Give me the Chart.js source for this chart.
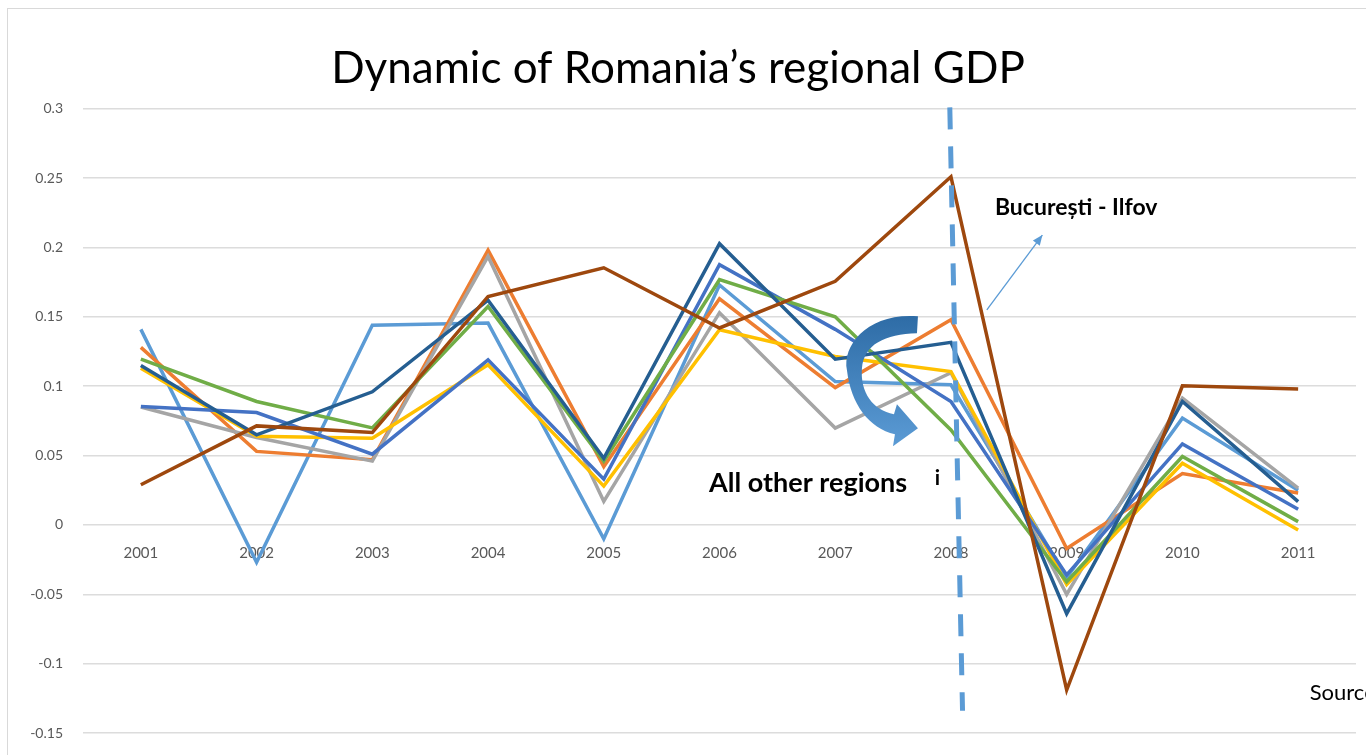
<!DOCTYPE html>
<html>
<head>
<meta charset="utf-8">
<script src="https://cdn.jsdelivr.net/npm/chart.js"></script>
<style>
  body { margin: 0; background: #fff; }
  #wrap { width: 1366px; height: 755px; position: relative; }
</style>
</head>
<body>
<div id="wrap"><canvas id="gdpChart" width="1366" height="755"></canvas></div>
<script>
// Years on the category axis
const years = ['2001', '2002', '2003', '2004', '2005', '2006', '2007', '2008', '2009', '2010', '2011'];

// Yearly GDP growth per region
const seriesLightBlue = [0.141, -0.027, 0.144, 0.1455, -0.010, 0.173, 0.1034, 0.101, -0.038, 0.077, 0.025];
const seriesOrange    = [0.128, 0.053, 0.047, 0.198, 0.042, 0.163, 0.099, 0.148, -0.017, 0.037, 0.023];
const seriesGray      = [0.085, 0.063, 0.046, 0.1936, 0.017, 0.153, 0.0698, 0.1097, -0.050, 0.0914, 0.0265];
const seriesYellow    = [0.113, 0.064, 0.0625, 0.1154, 0.028, 0.1407, 0.1214, 0.1106, -0.043, 0.0445, -0.0036];
const seriesBlue      = [0.0854, 0.081, 0.051, 0.119, 0.033, 0.1876, 0.141, 0.089, -0.036, 0.0584, 0.0113];
const seriesGreen     = [0.1195, 0.089, 0.070, 0.1575, 0.046, 0.1768, 0.150, 0.0685, -0.041, 0.0493, 0.0024];
const seriesDarkBlue  = [0.115, 0.065, 0.096, 0.162, 0.048, 0.2027, 0.1195, 0.1316, -0.064, 0.089, 0.0168];
const bucurestiIlfov  = [0.029, 0.0714, 0.0666, 0.1647, 0.1854, 0.142, 0.1756, 0.251, -0.119, 0.1003, 0.098];

// Value axis
const yMin = -0.15;
const yMax = 0.3;
const yStep = 0.05;

const FONT = 'Lato, "Open Sans", sans-serif';

const seriesList = [
  { label: 'Series 1', data: seriesLightBlue, color: '#5B9BD5' },
  { label: 'Series 2', data: seriesOrange, color: '#ED7D31' },
  { label: 'Series 3', data: seriesGray, color: '#A5A5A5' },
  { label: 'Series 4', data: seriesYellow, color: '#FFC000' },
  { label: 'Series 5', data: seriesBlue, color: '#4472C4' },
  { label: 'Series 6', data: seriesGreen, color: '#70AD47' },
  { label: 'Series 7', data: seriesDarkBlue, color: '#255E91' },
  { label: 'București - Ilfov', data: bucurestiIlfov, color: '#9E480E' }
];

// frame + annotations drawn on the canvas
const annotations = {
  id: 'annotations',
  beforeDraw(chart) {
    const ctx = chart.ctx;
    ctx.save();
    ctx.strokeStyle = '#d9d9d9';
    ctx.lineWidth = 1;
    ctx.strokeRect(7.5, 8.5, 1400, 800);
    ctx.restore();
  },
  afterDatasetsDraw(chart) {
    const ctx = chart.ctx;
    const xs = chart.scales.x;
    const ys = chart.scales.y;
    const px = i => xs.getPixelForValue(i);
    const py = v => ys.getPixelForValue(v);

    ctx.save();

    // dashed vertical line at 2008
    ctx.strokeStyle = '#5B9BD5';
    ctx.lineWidth = 5;
    ctx.setLineDash([22, 17]);
    ctx.beginPath();
    ctx.moveTo(px(6.99), py(0.301));
    ctx.lineTo(px(7.1), py(-0.134));
    ctx.stroke();
    ctx.setLineDash([]);

    // thin arrow pointing at the Bucuresti label
    const ax0 = px(7.31), ay0 = py(0.155);
    const ax1 = px(7.79), ay1 = py(0.209);
    ctx.strokeStyle = '#5B9BD5';
    ctx.fillStyle = '#5B9BD5';
    ctx.lineWidth = 1.3;
    ctx.beginPath();
    ctx.moveTo(ax0, ay0);
    ctx.lineTo(ax1, ay1);
    ctx.stroke();
    const ang = Math.atan2(ay1 - ay0, ax1 - ax0);
    ctx.beginPath();
    ctx.moveTo(ax1, ay1);
    ctx.lineTo(ax1 - 11 * Math.cos(ang - 0.4), ay1 - 11 * Math.sin(ang - 0.4));
    ctx.lineTo(ax1 - 11 * Math.cos(ang + 0.4), ay1 - 11 * Math.sin(ang + 0.4));
    ctx.closePath();
    ctx.fill();

    // curved block arrow, shape relative to (2008, 0.1)
    const ox = px(7), oy = py(0.1);
    const p = (dx, dy) => [ox + dx, oy + dy];
    const grad = ctx.createLinearGradient(0, oy - 70, 0, oy + 60);
    grad.addColorStop(0, '#2E6CA6');
    grad.addColorStop(1, '#5B9BD5');
    ctx.fillStyle = grad;
    ctx.beginPath();
    ctx.moveTo(...p(-33, -70));
    ctx.bezierCurveTo(...p(-82, -74), ...p(-109, -42), ...p(-104, -16));
    ctx.bezierCurveTo(...p(-100, 18), ...p(-82, 42), ...p(-56, 48));
    ctx.lineTo(...p(-58, 60));
    ctx.lineTo(...p(-33, 42));
    ctx.lineTo(...p(-54, 18));
    ctx.lineTo(...p(-57, 28));
    ctx.bezierCurveTo(...p(-78, 24), ...p(-91, 6), ...p(-89, -18));
    ctx.bezierCurveTo(...p(-87, -42), ...p(-66, -52), ...p(-34, -53));
    ctx.closePath();
    ctx.fill();

    // labels
    ctx.fillStyle = '#000';
    ctx.textBaseline = 'middle';
    ctx.textAlign = 'left';
    ctx.font = 'bold 23px ' + FONT;
    ctx.fillText('București - Ilfov', px(7.38), py(0.229));
    ctx.font = 'bold 27px ' + FONT;
    ctx.fillText('All other regions', px(4.91), py(0.0303));
    ctx.font = 'bold 21px ' + FONT;
    ctx.fillText('i', px(6.86), py(0.0335));
    ctx.font = '22px ' + FONT;
    ctx.fillText('Source', px(10.1), py(-0.121));

    ctx.restore();
  }
};

const ctx = document.getElementById('gdpChart').getContext('2d');
const gdpChart = new Chart(ctx, {
  type: 'line',
  data: {
    labels: years,
    datasets: seriesList.map((s, i) => ({
      label: s.label,
      data: s.data,
      borderColor: s.color,
      backgroundColor: s.color,
      borderWidth: 3.5,
      pointRadius: 0,
      tension: 0,
      fill: false,
      order: seriesList.length - i
    }))
  },
  options: {
    responsive: false,
    animation: false,
    layout: { padding: { left: 0, right: 10, top: 0, bottom: 22 } },
    plugins: {
      legend: { display: false },
      tooltip: { enabled: false },
      title: {
        display: true,
        text: 'Dynamic of Romania’s regional GDP',
        color: '#000',
        font: { family: FONT, size: 44, weight: 'normal' },
        padding: { top: 42, bottom: 14 }
      }
    },
    scales: {
      x: {
        type: 'category',
        offset: true,
        position: { y: 0 },
        grid: { display: false, drawTicks: false },
        border: { display: false },
        afterFit: scale => { scale.height = 0; },
        ticks: {
          color: '#595959',
          font: { family: FONT, size: 15 },
          padding: 19,
          autoSkip: false,
          maxRotation: 0
        }
      },
      y: {
        min: yMin,
        max: yMax,
        grid: { color: '#dcdcdc', lineWidth: 1.5, drawTicks: false },
        border: { display: false },
        afterFit: scale => {
          // fixed axis width, and don't let tick padding push the plot area in
          scale.width = 83;
          scale.paddingTop = 0;
          scale.paddingBottom = 0;
        },
        ticks: {
          stepSize: yStep,
          color: '#595959',
          font: { family: FONT, size: 14 },
          padding: 20,
          callback: v => String(Math.round(v * 100) / 100)
        }
      }
    }
  },
  plugins: [annotations]
});
</script>
</body>
</html>
